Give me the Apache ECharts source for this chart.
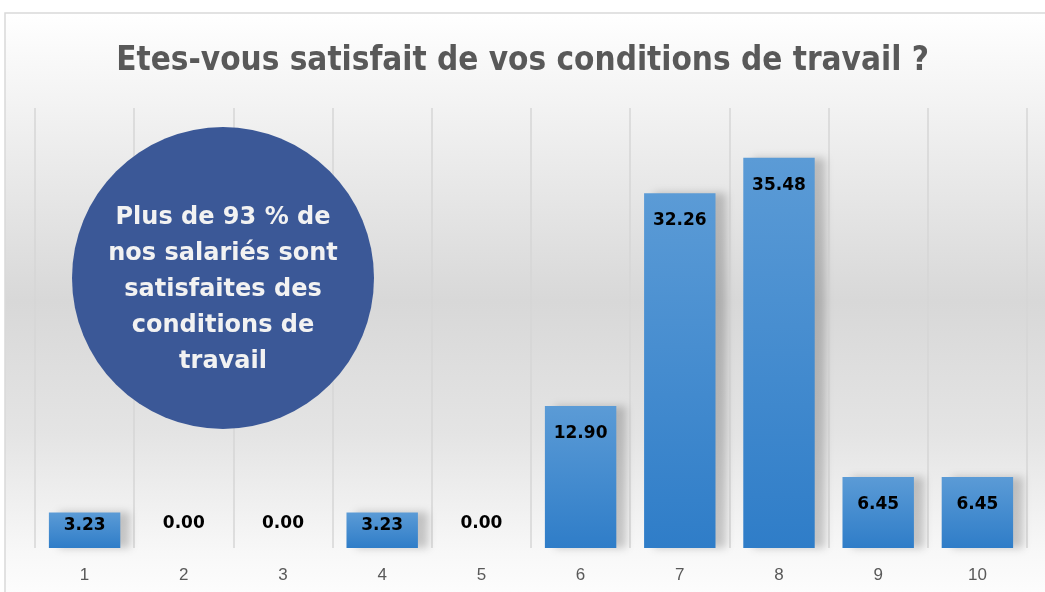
<!DOCTYPE html>
<html>
<head>
<meta charset="utf-8">
<script src="https://cdn.jsdelivr.net/npm/echarts@6/dist/echarts.min.js"></script>
<style>
  html, body { margin: 0; padding: 0; background: #ffffff; }
  #chart { width: 1045px; height: 592px; }
</style>
</head>
<body>
<div id="chart"></div>
<script>
const titleText = 'Etes-vous satisfait de vos conditions de travail ?';
const categories = ['1', '2', '3', '4', '5', '6', '7', '8', '9', '10'];
const values = [3.23, 0.00, 0.00, 3.23, 0.00, 12.90, 32.26, 35.48, 6.45, 6.45];
const calloutLines = ['Plus de 93 % de', 'nos salariés sont', 'satisfaites des', 'conditions de', 'travail'];

const chart = echarts.init(document.getElementById('chart'));

// label placement: zero bars get the label above the baseline, small bars near the top edge
function labelFor(v) {
  if (v === 0) {
    return { position: 'top', distance: 16 };
  }
  if (v < 5) {
    return { position: 'insideTop', distance: 5 };
  }
  return { position: 'insideTop', distance: 19 };
}

const barData = values.map(v => ({ value: v, label: labelFor(v) }));

const option = {
  backgroundColor: '#ffffff',
  animation: false,
  title: {
    text: titleText,
    left: 'center',
    top: 40,
    textStyle: {
      fontFamily: '"DejaVu Sans Condensed", "Liberation Sans Narrow", "Liberation Sans", sans-serif',
      fontSize: 33,
      fontWeight: 'bold',
      color: '#595959',
    },
  },
  grid: { left: 35, right: 18, top: 108, bottom: 44 },
  xAxis: {
    type: 'category',
    data: categories,
    boundaryGap: true,
    axisLine: { show: false },
    axisTick: { show: false },
    axisLabel: {
      color: '#595959',
      fontFamily: 'Liberation Sans',
      fontSize: 17,
      margin: 19,
    },
    splitLine: {
      show: true,
      interval: 0,
      lineStyle: { color: '#d6d6d6', width: 1.5 },
    },
  },
  yAxis: {
    type: 'value',
    min: 0,
    max: 40,
    show: false,
    splitLine: { show: false },
  },
  graphic: [
    {
      type: 'rect',
      z: -10,
      silent: true,
      shape: { x: 5, y: 13, width: 1060, height: 600 },
      style: {
        fill: new echarts.graphic.LinearGradient(0, 0, 0, 1, [
          { offset: 0, color: '#ffffff' },
          { offset: 0.15, color: '#f3f3f3' },
          { offset: 0.48, color: '#d8d8d8' },
          { offset: 0.7, color: '#e4e4e4' },
          { offset: 0.9, color: '#f8f8f8' },
          { offset: 1, color: '#ffffff' },
        ]),
        stroke: '#d9d9d9',
        lineWidth: 1.5,
      },
    },
    {
      type: 'circle',
      z: 100,
      silent: true,
      shape: { cx: 223, cy: 278, r: 151 },
      style: { fill: '#3b5897' },
    },
    {
      type: 'text',
      z: 101,
      silent: true,
      x: 223,
      y: 290,
      style: {
        text: calloutLines.join('\n'),
        fill: '#f2f2f2',
        fontFamily: 'DejaVu Sans',
        fontWeight: 'bold',
        fontSize: 24,
        lineHeight: 36,
        align: 'center',
        verticalAlign: 'middle',
      },
    },
  ],
  series: [
    {
      type: 'bar',
      data: barData,
      barWidth: '72%',
      itemStyle: {
        color: new echarts.graphic.LinearGradient(0, 0, 0, 1, [
          { offset: 0, color: '#5b9bd6' },
          { offset: 1, color: '#2f7dc8' },
        ]),
        shadowColor: 'rgba(0,0,0,0.2)',
        shadowBlur: 8,
        shadowOffsetX: 10,
        shadowOffsetY: 0,
      },
      label: {
        show: true,
        color: '#000000',
        fontFamily: 'DejaVu Sans',
        fontWeight: 'bold',
        fontSize: 17,
        formatter: p => p.value.toFixed(2),
      },
    },
  ],
};

chart.setOption(option);
</script>
</body>
</html>
